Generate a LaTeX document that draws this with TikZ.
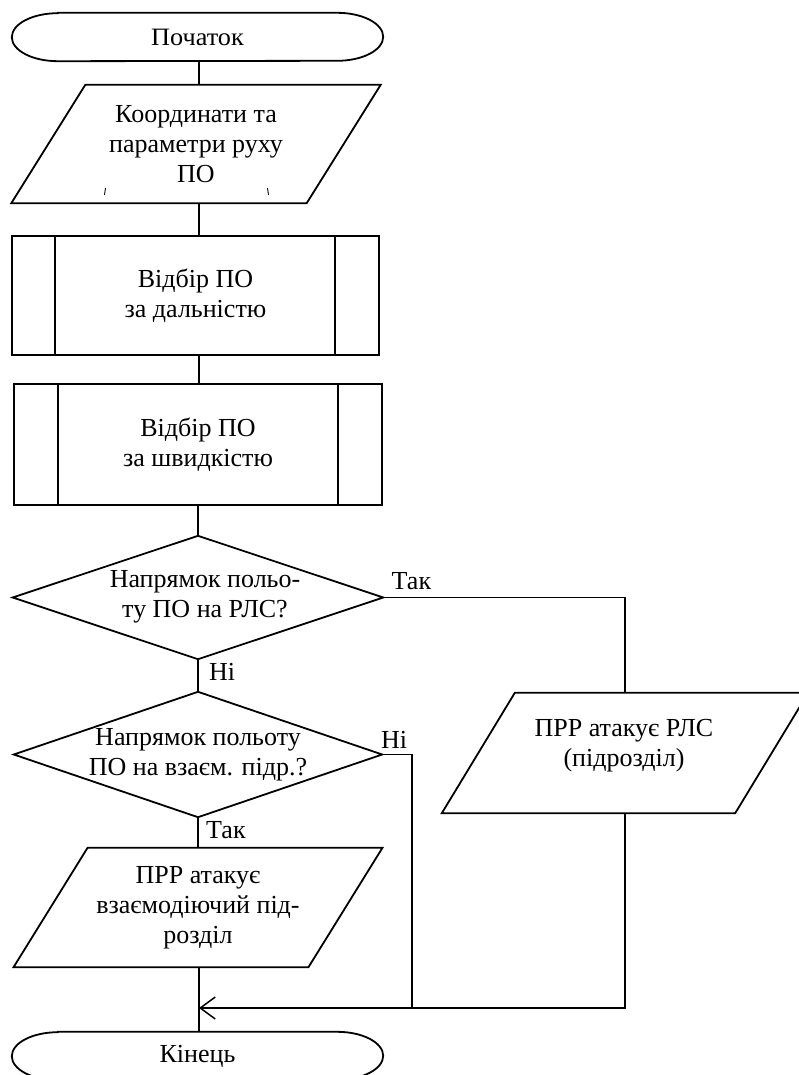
\documentclass[tikz,border=0pt]{standalone}
\usepackage{fontspec}
\setmainfont{Liberation Serif}
\newfontfamily\widefont{Liberation Serif}[FakeStretch=1.05]
\usetikzlibrary{arrows.meta}
\begin{document}
\begin{tikzpicture}[x=1pt,y=1pt,
  box/.style={inner sep=0pt, align=center, font=\fontsize{26}{30}\selectfont},
  outline/.style={line width=1.8pt, line join=miter},
  conn/.style={line width=1.5pt},
  thinconn/.style={line width=1.2pt},
  lbl/.style={inner sep=0pt, font=\fontsize{26}{30}\selectfont},
  tip/.style={-{Straight Barb[length=15pt,width=22pt,line width=1.5pt]}}
]
\useasboundingbox (0,0) rectangle (798,-1075);
\coordinate (col) at (199,0);

% start terminator
\node[box, minimum width=371pt, minimum height=48pt, font=\widefont\fontsize{25}{29}\selectfont] (start) at (197.5,-37) {Початок};
\draw[outline] ([xshift=46pt]start.north west) -- ([xshift=-46pt]start.north east)
  arc[start angle=90,end angle=-90,x radius=46pt,y radius=24pt]
  -- ([xshift=46pt]start.south west)
  arc[start angle=270,end angle=90,x radius=46pt,y radius=24pt] -- cycle;

% input 1
\node[box, minimum width=295pt, minimum height=118pt] (in1) at (196,-144) {Координати та\\параметри руху\\ПО};
\draw[outline] ([xshift=-37pt]in1.south west) -- ([xshift=37pt]in1.north west)
  -- ([xshift=37pt]in1.north east) -- ([xshift=-37pt]in1.south east) -- cycle;
\draw[line width=0.9pt] (105.5,-188) -- (104.5,-195);
\draw[line width=0.9pt] (267.5,-188) -- (268.5,-195);

% process 1
\node[box, minimum width=367pt, minimum height=119pt] (p1) at (195.5,-295.5) {Відбір ПО\\за дальністю};
\draw[outline] (p1.north west) rectangle (p1.south east);
\draw[outline] ([xshift=43pt]p1.north west) -- ([xshift=43pt]p1.south west);
\draw[outline] ([xshift=-44pt]p1.north east) -- ([xshift=-44pt]p1.south east);

% process 2
\node[box, minimum width=368pt, minimum height=121pt] (p2) at (198,-444.5) {Відбір ПО\\за швидкістю};
\draw[outline] (p2.north west) rectangle (p2.south east);
\draw[outline] ([xshift=44pt]p2.north west) -- ([xshift=44pt]p2.south west);
\draw[outline] ([xshift=-44pt]p2.north east) -- ([xshift=-44pt]p2.south east);

% decision 1
\node[minimum width=370pt, minimum height=123pt, inner sep=0pt] (d1) at (198,-597.5) {};
\draw[outline] (d1.west) -- (d1.north) -- (d1.east) -- (d1.south) -- cycle;
\node[box] (d1t) at (205,-597) {Напрямок польо-\\ту ПО на РЛС?};

% decision 2
\node[box, minimum width=368pt, minimum height=125pt] (d2) at (198,-754.5) {Напрямок польоту\\ПО на взаєм. підр.?};
\draw[outline] (d2.west) -- (d2.north) -- (d2.east) -- (d2.south) -- cycle;

% input 2 (right)
\node[minimum width=293pt, minimum height=120pt, inner sep=0pt] (in2) at (625,-753) {};
\draw[outline] ([xshift=-36.5pt]in2.south west) -- ([xshift=36.5pt]in2.north west)
  -- ([xshift=36.5pt]in2.north east) -- ([xshift=-36.5pt]in2.south east) -- cycle;
\node[box] (in2t) at (624,-746) {ПРР атакує РЛС\\(підрозділ)};

% input 3
\node[box, minimum width=294.5pt, minimum height=119pt] (in3) at (198,-907.5) {ПРР атакує\\взаємодіючий під-\\розділ};
\draw[outline] ([xshift=-37pt]in3.south west) -- ([xshift=37pt]in3.north west)
  -- ([xshift=37pt]in3.north east) -- ([xshift=-37pt]in3.south east) -- cycle;

% end terminator
\node[box, minimum width=371pt, minimum height=48pt] (end) at (197.5,-1056) {Кінець};
\draw[outline] ([xshift=46pt]end.north west) -- ([xshift=-46pt]end.north east)
  arc[start angle=90,end angle=-90,x radius=46pt,y radius=24pt]
  -- ([xshift=46pt]end.south west)
  arc[start angle=270,end angle=90,x radius=46pt,y radius=24pt] -- cycle;

% junction points
\coordinate (j1) at (412,-1008);
\coordinate (j0) at (199,-1008);

% connectors
\draw[conn] (start.south -| col) -- (in1.north -| col);
\draw[conn] (in1.south -| col) -- (p1.north -| col);
\draw[conn] (p1.south -| col) -- (p2.north -| col);
\draw[conn] (p2.south -| d1.north) -- (d1.north);
\draw[conn] (d1.south) -- (d2.north);
\draw[conn] (d2.south) -- (in3.north -| d2.south);
\draw[conn] (d1.east) -| (in2.north);
\draw[thinconn] (d2.east) -| (j1);
\draw[conn, tip] (in2.south) |- (j0);
\draw[conn] (in3.south -| col) -- (end.north -| col);

% labels
\node[lbl, anchor=base west] (l1) at (391.5,-589) {Так};
\node[lbl, anchor=base west] (l2) at (209,-680) {Ні};
\node[lbl, anchor=base west] (l3) at (381,-748) {Ні};
\node[lbl, anchor=base west] (l4) at (206,-838) {Так};
\end{tikzpicture}
\end{document}
